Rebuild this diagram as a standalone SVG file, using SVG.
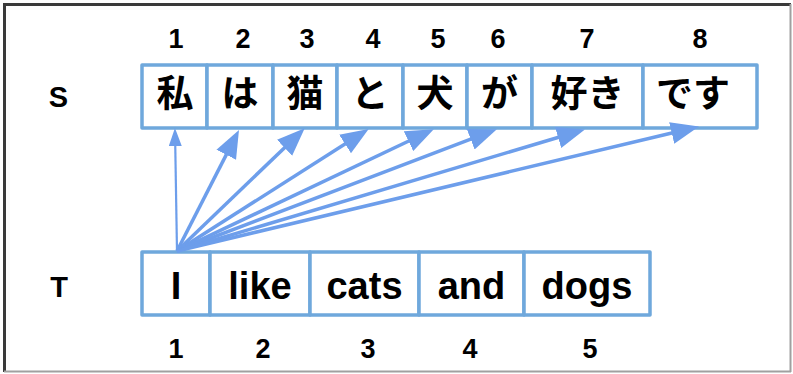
<svg xmlns="http://www.w3.org/2000/svg" width="793" height="374" viewBox="0 0 793 374">
<style>
.box{fill:#ffffff;stroke:#6fa8dc;stroke-width:3.5;stroke-linejoin:round}
.lbl{font-family:"Liberation Sans",Arial,sans-serif;font-weight:bold;font-size:29px;fill:#000;text-anchor:middle}
.num{font-family:"Liberation Sans",Arial,sans-serif;font-weight:bold;font-size:27px;fill:#000;text-anchor:middle}
.en{font-family:"Liberation Sans",Arial,sans-serif;font-weight:bold;font-size:38px;fill:#000;text-anchor:middle}
.ja{font-family:"Noto Sans CJK JP","Noto Sans CJK SC",sans-serif;font-weight:bold;font-size:37px;fill:#000;text-anchor:middle}
.arr{fill:none;stroke:#6d9eeb;stroke-width:3.5}
.arr1{fill:none;stroke:#6d9eeb;stroke-width:2.2}
</style>
<defs>
<marker id="big" markerUnits="userSpaceOnUse" markerWidth="28" markerHeight="23" refX="12" refY="11" orient="auto" viewBox="0 0 28 22">
<path d="M0,0 L28,11 L0,22 Z" fill="#6d9eeb"/>
</marker>
<marker id="small" markerUnits="userSpaceOnUse" markerWidth="18" markerHeight="13" refX="8" refY="6.5" orient="auto" viewBox="0 0 18 13">
<path d="M0,0 L18,6.5 L0,13 Z" fill="#6d9eeb"/>
</marker>
</defs>
<rect x="0" y="0" width="793" height="374" fill="#ffffff"/>
<g id="frame">
<line x1="4.5" y1="3" x2="4.5" y2="372" stroke="#3a3a3a" stroke-width="3"/>
<line x1="3" y1="4.5" x2="791" y2="4.5" stroke="#3a3a3a" stroke-width="3"/>
<line x1="790.5" y1="4" x2="790.5" y2="372" stroke="#a0a0a0" stroke-width="2"/>
<line x1="4" y1="371.5" x2="791" y2="371.5" stroke="#a0a0a0" stroke-width="2"/>
</g>
<g id="labels">
<text class="lbl" x="58.5" y="107">S</text>
<text class="lbl" x="59" y="297">T</text>
</g>
<g id="s-indices">
<text class="num" x="176" y="48">1</text>
<text class="num" x="243" y="48">2</text>
<text class="num" x="307" y="48">3</text>
<text class="num" x="373" y="48">4</text>
<text class="num" x="438" y="48">5</text>
<text class="num" x="498" y="48">6</text>
<text class="num" x="587" y="48">7</text>
<text class="num" x="700" y="48">8</text>
</g>
<g id="t-indices">
<text class="num" x="176" y="358">1</text>
<text class="num" x="263" y="358">2</text>
<text class="num" x="368" y="358">3</text>
<text class="num" x="470" y="358">4</text>
<text class="num" x="590" y="358">5</text>
</g>
<g id="s1"><rect class="box" x="142" y="65" width="65" height="63"/><text class="ja" x="175" y="107">私</text></g>
<g id="s2"><rect class="box" x="207" y="65" width="66" height="63"/><text class="ja" x="240" y="107">は</text></g>
<g id="s3"><rect class="box" x="273" y="65" width="64" height="63"/><text class="ja" x="305" y="107">猫</text></g>
<g id="s4"><rect class="box" x="337" y="65" width="66" height="63"/><text class="ja" x="370" y="107">と</text></g>
<g id="s5"><rect class="box" x="403" y="65" width="64" height="63"/><text class="ja" x="435" y="107">犬</text></g>
<g id="s6"><rect class="box" x="467" y="65" width="65" height="63"/><text class="ja" x="499.5" y="107">が</text></g>
<g id="s7"><rect class="box" x="532" y="65" width="111" height="63"/><text class="ja" x="587.5" y="107">好き</text></g>
<g id="s8"><rect class="box" x="643" y="65" width="114" height="63"/><text class="ja" x="693" y="107">です</text></g>
<g id="t1"><rect class="box" x="142" y="252" width="68" height="63"/><text class="en" x="176" y="299">I</text></g>
<g id="t2"><rect class="box" x="210" y="252" width="100" height="63"/><text class="en" x="260" y="299">like</text></g>
<g id="t3"><rect class="box" x="310" y="252" width="109" height="63"/><text class="en" x="364.5" y="299">cats</text></g>
<g id="t4"><rect class="box" x="419" y="252" width="105" height="63"/><text class="en" x="471.5" y="299">and</text></g>
<g id="t5"><rect class="box" x="524" y="252" width="126" height="63"/><text class="en" x="587" y="299">dogs</text></g>
<g id="connectors">
<line class="arr1" x1="177" y1="251" x2="175.13" y2="138" marker-end="url(#small)"/>
<line class="arr" x1="177" y1="251" x2="231.70" y2="144.12" marker-end="url(#big)"/>
<line class="arr" x1="177" y1="251" x2="293.18" y2="139.39" marker-end="url(#big)"/>
<line class="arr" x1="177" y1="251" x2="355.19" y2="137.53" marker-end="url(#big)"/>
<line class="arr" x1="177" y1="251" x2="419.35" y2="136.00" marker-end="url(#big)"/>
<line class="arr" x1="177" y1="251" x2="481.91" y2="134.98" marker-end="url(#big)"/>
<line class="arr" x1="177" y1="251" x2="569.58" y2="134.00" marker-end="url(#big)"/>
<line class="arr" x1="177" y1="251" x2="683.38" y2="130.25" marker-end="url(#big)"/>
</g>
</svg>
